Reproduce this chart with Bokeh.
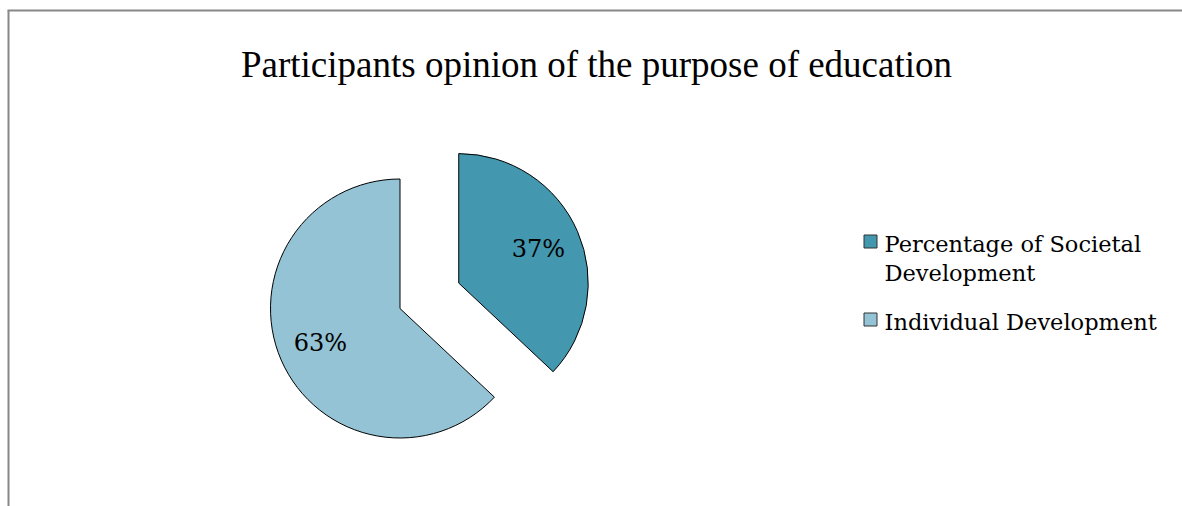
import math
from bokeh.plotting import figure
from bokeh.models import Range1d, ColumnDataSource
from bokeh.core.properties import value
from bokeh.embed import file_html
from bokeh.resources import INLINE

# ---- data ----
title_text = "Participants opinion of the purpose of education"
categories = ["Percentage of Societal\nDevelopment", "Individual Development"]
legend_lines = [["Percentage of Societal", "Development"], ["Individual Development"]]
values = [37, 63]
pct_labels = ["37%", "63%"]
colors = ["#4397AE", "#93C3D4"]
explode = [64, 0]

W, H = 1182, 506
p = figure(width=W, height=H, output_backend="svg", toolbar_location=None,
           x_range=Range1d(0, W), y_range=Range1d(0, H), min_border=0)
p.axis.visible = False
p.grid.visible = False
p.outline_line_color = None
p.background_fill_color = "white"

def Y(y):
    return H - y

# border (chart area frame)
p.segment(x0=[7, 8], y0=[Y(10), Y(10)], x1=[W, 8], y1=[Y(10), 0],
          line_color="#888888", line_width=2)

# title
p.text(x=[596], y=[Y(64)], text=[title_text], text_align="center",
       text_baseline="alphabetic", text_font=value("Liberation Serif"),
       text_font_size="37px", text_color="black")

# pie
cx, cy, r = 399.5, Y(308), 129.5
total = float(sum(values))
xs, ys, starts, ends, lx, ly = [], [], [], [], [], []
cum = 0.0
for v, e in zip(values, explode):
    a0 = cum / total * 2 * math.pi
    a1 = (cum + v) / total * 2 * math.pi
    cum += v
    mid = math.pi / 2 - (a0 + a1) / 2
    ox = cx + e * math.cos(mid)
    oy = cy + e * math.sin(mid)
    xs.append(ox); ys.append(oy)
    starts.append(math.pi / 2 - a1)
    ends.append(math.pi / 2 - a0)
    lx.append(ox + 0.67 * r * math.cos(mid))
    ly.append(oy + 0.67 * r * math.sin(mid))

src = ColumnDataSource(dict(x=xs, y=ys, s=starts, e=ends, c=colors,
                            lx=lx, ly=ly, t=pct_labels))
p.wedge(x="x", y="y", radius=r, start_angle="s", end_angle="e",
        fill_color="c", line_color="black", line_width=1, source=src)
p.text(x="lx", y="ly", text="t", text_align="center", text_baseline="middle",
       text_font=value("DejaVu Serif"), text_font_size="24px",
       text_color="black", source=src)

# legend (manual)
sq_x, text_x = 870, 884
row_y = [241, 319]
line_h = 29
p.rect(x=[sq_x] * len(colors), y=[Y(v) for v in row_y], width=13, height=13,
       fill_color=colors, line_color="#333333", line_width=1)
tx, ty, tt = [], [], []
for lines, ry in zip(legend_lines, row_y):
    for k, ln in enumerate(lines):
        tx.append(text_x); ty.append(Y(ry + 2 + k * line_h)); tt.append(ln)
p.text(x=tx, y=ty, text=tt, text_align="left", text_baseline="middle",
       text_font=value("DejaVu Serif"), text_font_size="22.5px", text_color="black")

open("out.html", "w").write(file_html(p, INLINE))
